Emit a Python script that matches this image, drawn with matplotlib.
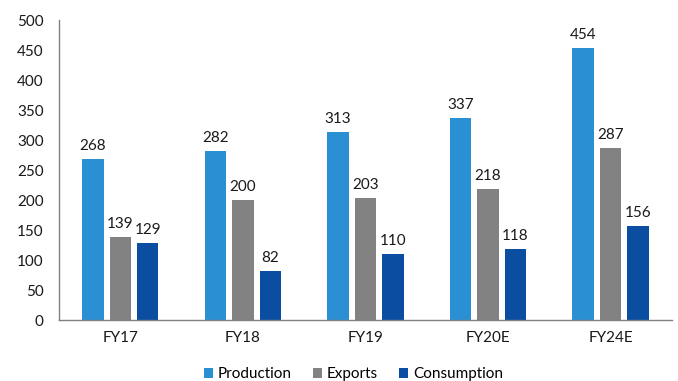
import matplotlib.pyplot as plt
import numpy as np

plt.rcParams['font.family'] = ['Lato', 'DejaVu Sans']

years = ['FY17', 'FY18', 'FY19', 'FY20E', 'FY24E']
production = [268, 282, 313, 337, 454]
exports = [139, 200, 203, 218, 287]
consumption = [129, 82, 110, 118, 156]

series = [('Production', production, '#2B8FD3'),
          ('Exports', exports, '#828282'),
          ('Consumption', consumption, '#0B4DA1')]

fig = plt.figure(figsize=(6.78, 3.81), dpi=100)
ax = fig.add_axes([0.087, 0.16, 0.904, 0.7875])

x = np.arange(len(years))
w = 0.175
step = 0.224
for i, (name, vals, col) in enumerate(series):
    pos = x + (i - 1) * step
    ax.bar(pos, vals, width=w, color=col, label=name)
    for px, v in zip(pos, vals):
        ax.text(px, v + 10, str(v), ha='center', va='bottom', fontsize=11, color='#1a1a1a')

ax.set_xlim(-0.5, len(years) - 0.5)
ax.set_ylim(0, 500)
ax.set_yticks(range(0, 501, 50))
ax.set_xticks(x)
ax.set_xticklabels(years)
ax.tick_params(axis='both', length=0, labelsize=11, colors='#1a1a1a')
ax.tick_params(axis='y', pad=11)
ax.tick_params(axis='x', pad=8)
for s in ['top', 'right']:
    ax.spines[s].set_visible(False)
for s in ['left', 'bottom']:
    ax.spines[s].set_color('#808080')
    ax.spines[s].set_linewidth(1)

ax.legend(loc='lower center', bbox_to_anchor=(0.48, -0.25), ncol=3, frameon=False,
          fontsize=11, handlelength=0.6, handleheight=0.6, handletextpad=0.3,
          columnspacing=1.4)

fig.savefig('out.png', dpi=100)
